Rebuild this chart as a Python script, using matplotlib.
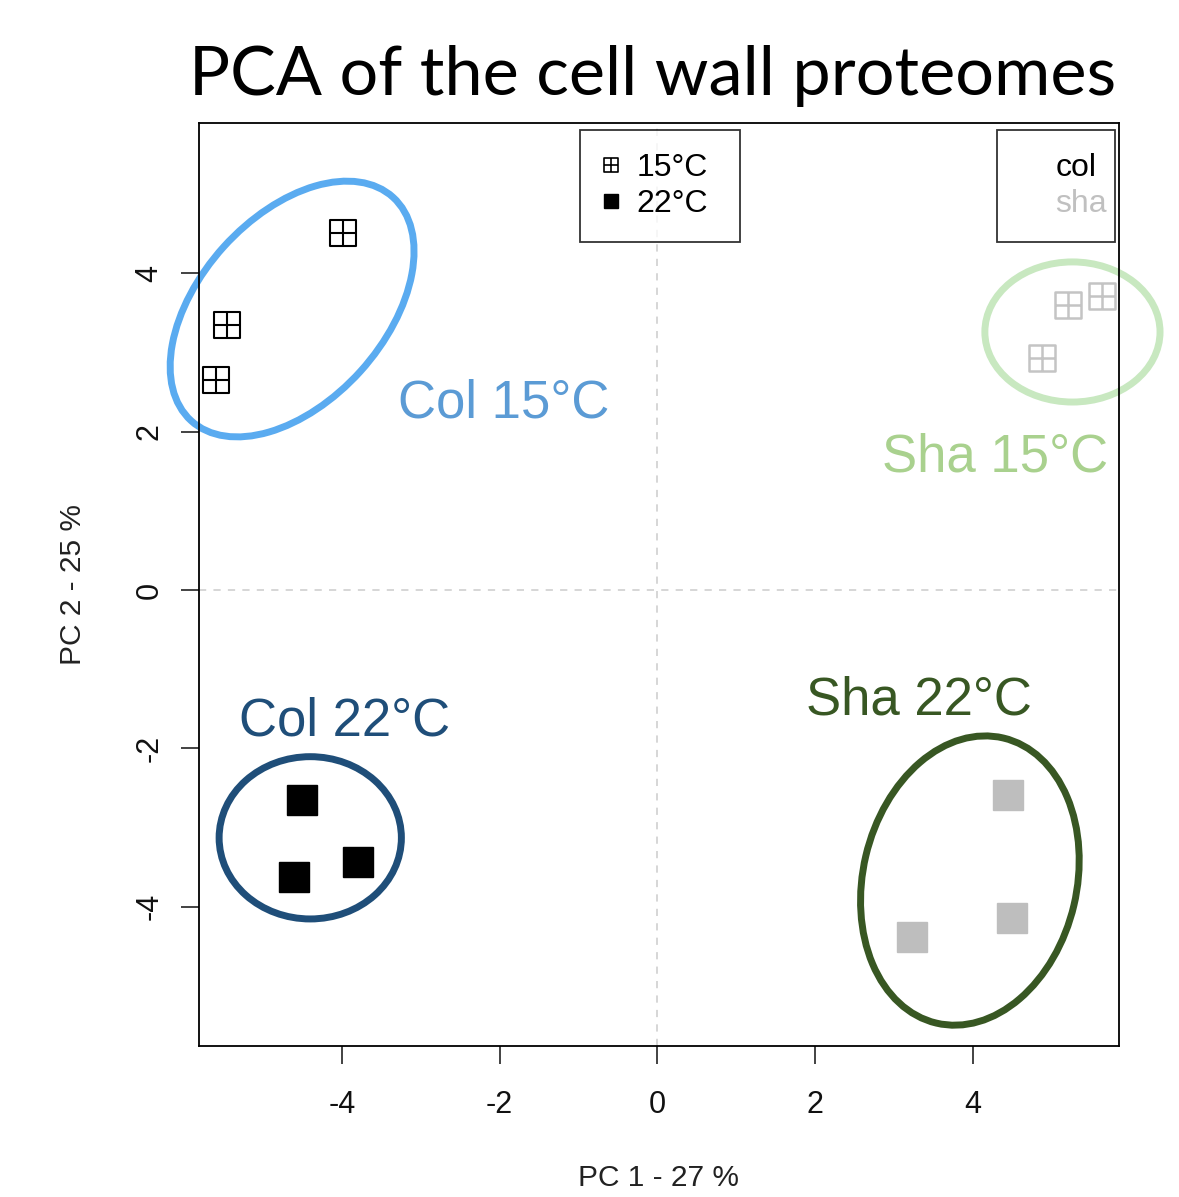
import numpy as np
import matplotlib
matplotlib.use('Agg')
import matplotlib.pyplot as plt
from matplotlib.path import Path
from matplotlib.patches import Ellipse
from matplotlib.lines import Line2D

# PCA scores
col15_x = [-3.98, -5.46, -5.59]
col15_y = [4.51, 3.35, 2.65]
col22_x = [-4.50, -3.79, -4.61]
col22_y = [-2.65, -3.43, -3.62]
sha15_x = [5.20, 5.64, 4.88]
sha15_y = [3.60, 3.72, 2.93]
sha22_x = [4.44, 4.49, 3.23]
sha22_y = [-2.59, -4.14, -4.38]

# group ellipses: centre x, centre y, width, height, angle
ell_centers = [(-4.63, 3.55), (-4.40, -3.13), (5.26, 3.26), (3.96, -3.67)]
ell_sizes = [(3.81, 2.34), (2.31, 2.05), (2.22, 1.77), (3.70, 2.71)]
ell_angles = [47.8, 0, 0, 76.7]
ell_colors = ['#5aabf0', '#1f4e79', '#c8e8c0', '#385723']

group_labels = ['Col 15°C', 'Col 22°C', 'Sha 15°C', 'Sha 22°C']
label_pos = [(-1.95, 2.18), (-3.97, -1.84), (4.28, 1.50), (3.32, -1.57)]
label_colors = ['#5b9bd5', '#1f4e79', '#a9d18e', '#385723']

xticks = [-4, -2, 0, 2, 4]
yticks = [-4, -2, 0, 2, 4]

# R pch=12 style: square with a cross
box_plus = Path(
    [(-1, -1), (1, -1), (1, 1), (-1, 1), (-1, -1),
     (0, -1), (0, 1), (-1, 0), (1, 0)],
    [Path.MOVETO, Path.LINETO, Path.LINETO, Path.LINETO, Path.CLOSEPOLY,
     Path.MOVETO, Path.LINETO, Path.MOVETO, Path.LINETO])

plt.rcParams['font.family'] = ['Liberation Sans', 'DejaVu Sans']

fig = plt.figure(figsize=(11.79, 11.97), dpi=100)
ax = fig.add_axes([199 / 1179, 1 - 1046 / 1197, 920 / 1179, 923 / 1197])
ax.set_xlim(-5.81, 5.85)
ax.set_ylim(-5.76, 5.90)

ax.axhline(0, color='#d3d3d3', ls=(0, (4, 4)), lw=1.3, zorder=0)
ax.axvline(0, color='#d3d3d3', ls=(0, (4, 4)), lw=1.3, zorder=0)

ax.plot(col15_x, col15_y, ls='none', marker=box_plus, ms=19, mfc='none',
        mec='black', mew=1.5)
ax.plot(sha15_x, sha15_y, ls='none', marker=box_plus, ms=19, mfc='none',
        mec='#c4c4c4', mew=1.8)
ax.plot(col22_x, col22_y, ls='none', marker='s', ms=21, color='black')
ax.plot(sha22_x, sha22_y, ls='none', marker='s', ms=21, color='#bebebe')

for c, s, a, col in zip(ell_centers, ell_sizes, ell_angles, ell_colors):
    ax.add_patch(Ellipse(c, s[0], s[1], angle=a, fill=False, ec=col, lw=5,
                         clip_on=False))

for t, p, col in zip(group_labels, label_pos, label_colors):
    ax.text(p[0], p[1], t, color=col, fontsize=38, ha='center', va='baseline')

ax.set_xticks(xticks)
ax.set_yticks(yticks)
ax.set_xticklabels([str(v) for v in xticks])
ax.set_yticklabels([str(v) for v in yticks], rotation=90, va='center')
ax.tick_params(axis='both', length=13, width=1.2, labelsize=22, color='#222222',
               labelcolor='#111111')
ax.tick_params(axis='x', pad=19)
ax.tick_params(axis='y', pad=12)
for sp in ax.spines.values():
    sp.set_linewidth(1.3)
ax.set_xlabel('PC 1 - 27 %', fontsize=21.5, color='#222222', labelpad=31)
ax.set_ylabel('PC 2 - 25 %', fontsize=21.5, color='#222222', labelpad=34)

h_temp = [Line2D([], [], ls='none', marker=box_plus, ms=10, mfc='none',
                 mec='black', mew=1.2),
          Line2D([], [], ls='none', marker='s', ms=10, color='black')]
leg1 = ax.legend(h_temp, ['15°C', '22°C'], loc='upper left',
                 bbox_to_anchor=(0.414, 0.873, 0.174, 0.1194), mode='expand',
                 borderaxespad=0,
                 fontsize=23, frameon=True, fancybox=False, edgecolor='black',
                 handlelength=0.5, handletextpad=0.55, labelspacing=0.2,
                 borderpad=0.72)
leg1.get_frame().set_linewidth(1.3)
ax.add_artist(leg1)

h_gen = [Line2D([], [], ls='none'), Line2D([], [], ls='none')]
leg2 = ax.legend(h_gen, ['col', 'sha'], loc='upper left',
                 bbox_to_anchor=(0.867, 0.873, 0.129, 0.1194), mode='expand',
                 borderaxespad=0,
                 fontsize=23, frameon=True, fancybox=False, edgecolor='black',
                 handlelength=0.9, handletextpad=0.22, labelspacing=0.2,
                 borderpad=0.72, labelcolor=['black', '#c0c0c0'])
leg2.get_frame().set_linewidth(1.3)

fig.text(0.1607, 1 - 95 / 1197, 'PCA of the cell wall proteomes',
         fontsize=49.2, family='Lato', ha='left', va='baseline')

fig.savefig('out.png', dpi=100)
